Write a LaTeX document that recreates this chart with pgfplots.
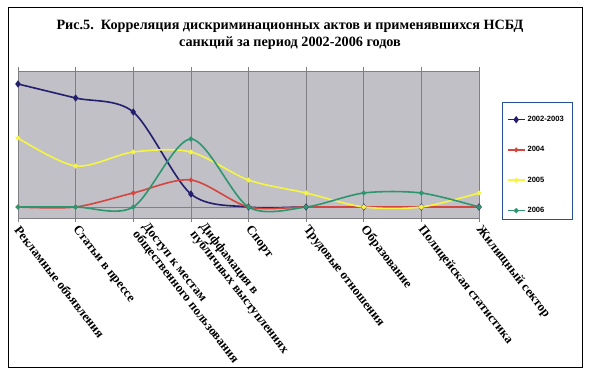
\documentclass[border=0pt]{standalone}
\usepackage{pgfplots}
\pgfplotsset{compat=1.18}
\usepackage{fontspec}
\setmainfont{Liberation Serif}
\newfontfamily\arial{Liberation Sans}
\definecolor{plotgray}{RGB}{192,192,198}
\definecolor{cBlue}{RGB}{35,30,110}
\definecolor{cRed}{RGB}{214,70,64}
\definecolor{cYellow}{RGB}{245,245,70}
\definecolor{cGreen}{RGB}{45,150,110}
\definecolor{gridc}{RGB}{128,128,132}
\definecolor{legc}{RGB}{40,80,150}
\begin{document}
\begin{tikzpicture}[x=1pt,y=1pt]
\fill[white] (0,0) rectangle (589,374);
\draw[black, line width=0.8pt] (8,7) rectangle (582,367);
\node[font=\bfseries\fontsize{14.2}{17}\selectfont, align=center] at (290,374-35) {Рис.5.~~Корреляция дискриминационных актов и применявшихся НСБД\\санкций за период 2002-2006 годов};
\begin{axis}[
  at={(18pt,156pt)}, anchor=south west,
  scale only axis, width=461pt, height=147pt,
  xmin=0, xmax=8, ymin=-11, ymax=136,
  axis background/.style={fill=plotgray},
  axis line style={draw=gridc, line width=0.5pt},
  xtick={0,1,2,3,4,5,6,7,8},
  xticklabels={Рекламные объявления, Статьи в прессе, {\hspace*{5pt}Доступ к местам\\\hspace*{5pt}общественного пользования\\\mbox{}}, {\hspace*{5pt}Диффамация в\\\hspace*{5pt}публичных выступлениях\\\mbox{}}, Спорт, Трудовые отношения, Образование, Полицейская статистика, Жилищный сектор},
  xticklabel style={rotate=-52, anchor=west, align=left, font=\bfseries\fontsize{12.8}{12.5}\selectfont, inner sep=1pt, yshift=-4pt, xshift=3pt},
  ytick=\empty,
  extra y ticks={0}, extra y tick labels={},
  extra y tick style={grid=major, major tick length=0pt},
  xmajorgrids,
  major grid style={draw=gridc, line width=0.6pt},
  tick align=outside, major tick length=4pt,
  xtick style={draw=gridc, line width=0.6pt},
  legend cell align=left,
  legend style={at={(1.060,0.707)}, anchor=north west, draw=none, fill=none, inner sep=0pt,
     font=\arial\bfseries\fontsize{7.6}{8}\selectfont, row sep=19.5pt},
  every axis plot/.append style={line width=1.6pt, smooth},
]
\addplot[color=cBlue, mark=diamond*, mark size=2.4pt, mark options={solid}] coordinates {(0,123) (1,109) (2,95) (3,13) (4,0) (5,0) (6,0) (7,0) (8,0)};
\addlegendentry{2002-2003}
\addplot[color=cRed, mark=*, mark size=1.4pt] coordinates {(0,0) (1,0) (2,14) (3,27) (4,0) (5,0) (6,0) (7,0) (8,0)};
\addlegendentry{2004}
\addplot[color=cYellow, mark=*, mark size=1.6pt] coordinates {(0,69) (1,41) (2,55) (3,55) (4,27) (5,14) (6,0) (7,0) (8,14)};
\addlegendentry{2005}
\addplot[color=cGreen, mark=*, mark size=1.6pt] coordinates {(0,0) (1,0) (2,0) (3,68) (4,0) (5,0) (6,14) (7,14) (8,0)};
\addlegendentry{2006}
\end{axis}
\draw[legc, line width=0.7pt] (502,374-102) rectangle (572,374-219);
\end{tikzpicture}
\end{document}
